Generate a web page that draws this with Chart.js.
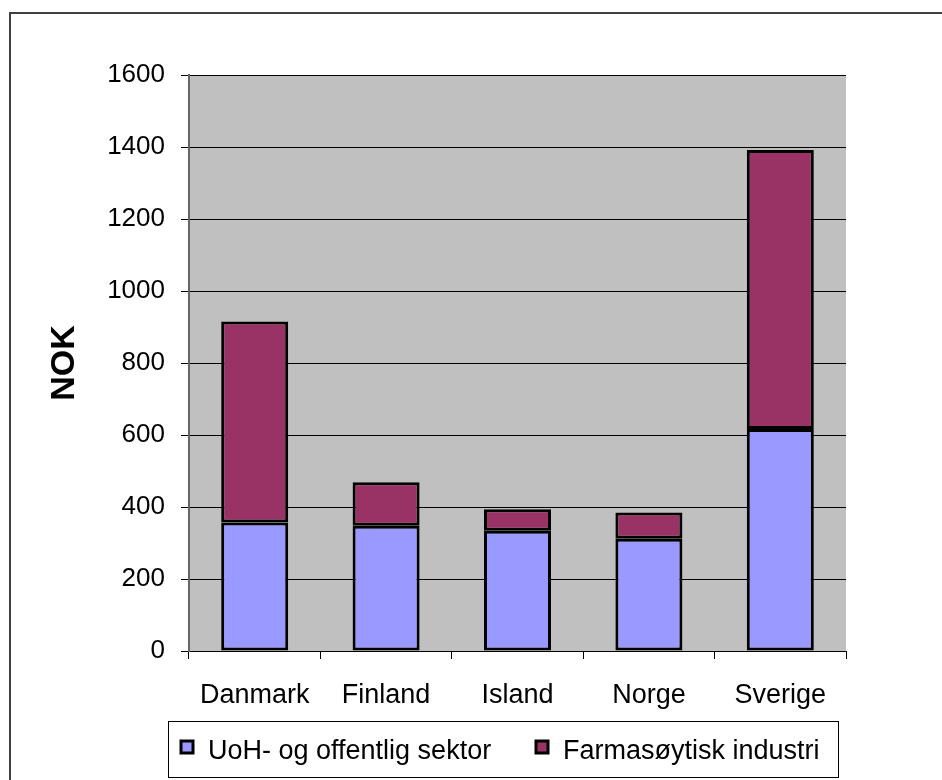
<!DOCTYPE html>
<html>
<head>
<meta charset="utf-8">
<title>NOK</title>
<script src="https://cdn.jsdelivr.net/npm/chart.js@4/dist/chart.umd.min.js"></script>
<style>
    html, body { margin: 0; padding: 0; background: #fff; }
    #mycanvas { display: block; }
</style>
</head>
<body>
<canvas id="mycanvas" width="942" height="780"></canvas>
<script>
// land, og kostnader per sektor (NOK)
var countries = ['Danmark', 'Finland', 'Island', 'Norge', 'Sverige'];
var uohValues = [357, 348, 334, 312, 617];
var farmaValues = [558, 121, 60, 73, 775];
var seriesNames = ['UoH- og offentlig sektor', 'Farmasøytisk industri'];
var yMin = 0, yMax = 1600, yStep = 200;

var FONT = '"Liberation Sans", Arial, sans-serif';

// ramme rundt hele figuren, grå bakgrunn i plottet og egen legende nederst
var framePlugin = {
    id: 'frame',
    beforeDraw: function(chart) {
        var c = chart.ctx, a = chart.chartArea;
        c.save();
        c.fillStyle = '#fff';
        c.fillRect(0, 0, chart.width, chart.height);
        c.fillStyle = '#c0c0c0';
        c.fillRect(a.left, a.top, a.right - a.left, a.bottom - a.top);
        c.strokeStyle = '#404040';
        c.lineWidth = 2;
        c.strokeRect(10, 13, 1000, 1000);
        c.restore();
    },
    afterDraw: function(chart) {
        var c = chart.ctx;
        c.save();
        c.strokeStyle = '#000';
        c.lineWidth = 1;
        c.strokeRect(168.5, 721.5, 670, 56);
        c.font = '27px ' + FONT;
        c.textBaseline = 'alphabetic';
        var xs = [180, 535];
        chart.data.datasets.forEach(function(ds, i) {
            var x = xs[i];
            c.fillStyle = ds.backgroundColor;
            c.fillRect(x + 1, 741, 12, 12);
            c.lineWidth = 3;
            c.strokeStyle = '#000';
            c.strokeRect(x + 1, 741, 12, 12);
            c.fillStyle = '#000';
            c.fillText(ds.label, x + 28, 759);
        });
        c.restore();
    }
};

var chartdata = {
    labels: countries,
    datasets: [
        {
            label: seriesNames[0],
            data: uohValues,
            backgroundColor: '#9999ff',
            borderColor: '#000',
            borderWidth: 3,
            borderSkipped: false
        },
        {
            label: seriesNames[1],
            data: farmaValues,
            backgroundColor: '#993366',
            borderColor: '#000',
            borderWidth: 3,
            borderSkipped: false
        }
    ]
};

var ctx = document.getElementById('mycanvas');

var BarGraph = new Chart(ctx, {
    type: 'bar',
    data: chartdata,
    plugins: [framePlugin],
    options: {
        responsive: false,
        animation: false,
        events: [],
        layout: { padding: { left: 44, right: 96, top: 75, bottom: 69 } },
        datasets: { bar: { barPercentage: 0.51, categoryPercentage: 1 } },
        plugins: {
            legend: { display: false },
            tooltip: { enabled: false }
        },
        scales: {
            x: {
                stacked: true,
                ticks: { color: '#000', font: { family: FONT, size: 27 }, padding: 20 },
                grid: { offset: true, drawOnChartArea: false, color: '#000', tickLength: 8 },
                border: { color: '#000', width: 1 },
                afterFit: function(s) { s.height = 60; }
            },
            y: {
                stacked: true,
                min: yMin,
                max: yMax,
                ticks: {
                    stepSize: yStep,
                    color: '#000',
                    font: { family: FONT, size: 26 },
                    padding: 16,
                    callback: function(v) { return String(v); }
                },
                grid: { color: '#000', lineWidth: 1, tickLength: 8, tickColor: '#000' },
                border: { color: '#666', width: 2 },
                title: {
                    display: true,
                    text: 'NOK',
                    color: '#000',
                    padding: 0,
                    font: { family: FONT, size: 34, weight: 'bold' }
                },
                afterFit: function(s) { s.width = 189 - 44; }
            }
        }
    }
});
</script>
</body>
</html>
